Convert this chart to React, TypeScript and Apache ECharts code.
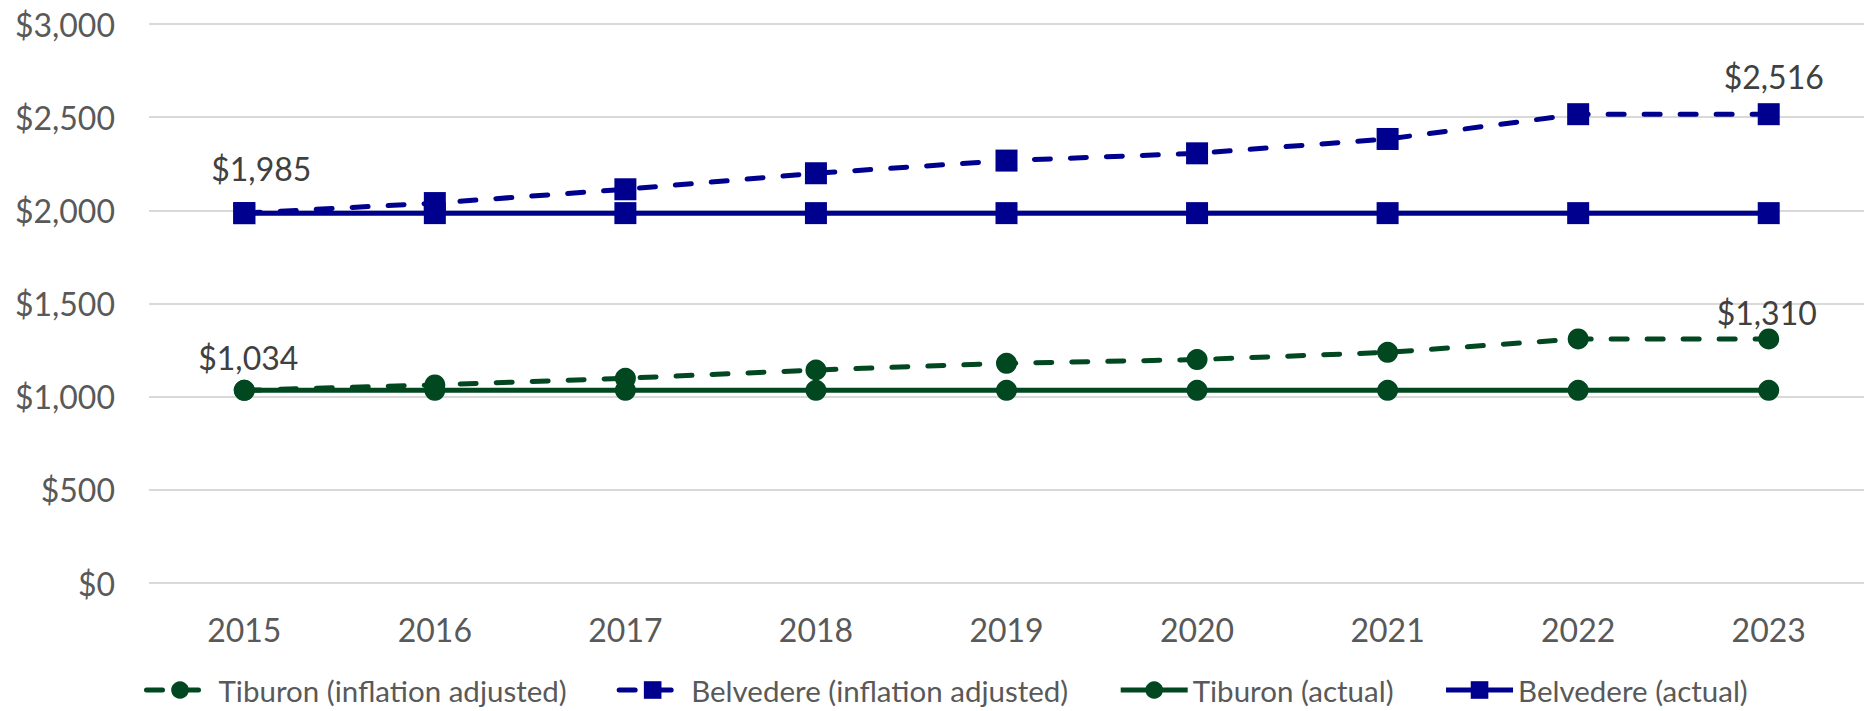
import React, { useEffect, useRef } from "react";
import * as echarts from "echarts";

const years = ["2015", "2016", "2017", "2018", "2019", "2020", "2021", "2022", "2023"];
const tiburonAdjusted = [1034, 1063, 1099, 1143, 1179, 1199, 1238, 1310, 1310];
const belvedereAdjusted = [1985, 2039, 2113, 2199, 2267, 2306, 2383, 2516, 2516];
const tiburonActual = [1034, 1034, 1034, 1034, 1034, 1034, 1034, 1034, 1034];
const belvedereActual = [1985, 1985, 1985, 1985, 1985, 1985, 1985, 1985, 1985];
const seriesNames = [
  "Tiburon (inflation adjusted)",
  "Belvedere (inflation adjusted)",
  "Tiburon (actual)",
  "Belvedere (actual)",
];
const yTicks = { min: 0, max: 3000, interval: 500 };

const GREEN = "#01471f";
const BLUE = "#00008f";
const FONT = "Lato";

const fmt = (v: number) => "$" + v.toLocaleString("en-US");

function withEndLabels(values: number[], first: number[], last: number[]) {
  return values.map((v, i) => {
    if (i === 0)
      return { value: v, label: { show: true, offset: first } };
    if (i === values.length - 1)
      return { value: v, label: { show: true, offset: last } };
    return v;
  });
}

export default function App() {
  const ref = useRef<HTMLDivElement>(null);
  useEffect(() => {
    if (!ref.current) return;
    const chart = echarts.init(ref.current, undefined, { renderer: "svg" });
    const labelStyle = {
      show: false,
      position: "top",
      distance: 5,
      color: "#404040",
      fontFamily: FONT,
      fontSize: 32,
      formatter: (p: any) => fmt(p.value),
    };
    chart.setOption({
      animation: false,
      textStyle: { fontFamily: FONT },
      grid: { left: 149, top: 24, width: 1721, height: 559, containLabel: false },
      legend: {
        left: 139,
        top: 669,
        itemWidth: 67,
        itemHeight: 22,
        itemGap: 50,
        lineStyle: { width: 5 },
        textStyle: { color: "#595959", fontSize: 29.5, fontFamily: FONT, lineHeight: 32 },
        data: seriesNames,
      },
      xAxis: {
        type: "category",
        data: years,
        boundaryGap: true,
        axisLine: { show: false },
        axisTick: { show: false },
        axisLabel: { color: "#595959", fontSize: 32, fontFamily: FONT, margin: 30 },
      },
      yAxis: {
        type: "value",
        min: yTicks.min,
        max: yTicks.max,
        interval: yTicks.interval,
        axisLine: { show: false },
        axisTick: { show: false },
        axisLabel: {
          color: "#595959",
          fontSize: 32,
          fontFamily: FONT,
          margin: 34,
          formatter: (v: number) => fmt(v),
        },
        splitLine: { lineStyle: { color: "#d9d9d9", width: 2 } },
      },
      series: [
        {
          name: seriesNames[0],
          type: "line",
          data: withEndLabels(tiburonAdjusted, [4, -1], [-2, 5]),
          symbol: "circle",
          symbolSize: 21,
          itemStyle: { color: GREEN },
          lineStyle: { color: GREEN, width: 5, type: [16, 20], cap: "round" },
          label: labelStyle,
          z: 3,
        },
        {
          name: seriesNames[1],
          type: "line",
          data: withEndLabels(belvedereAdjusted, [17, -13], [5, -6]),
          symbol: "rect",
          symbolSize: 22,
          itemStyle: { color: BLUE },
          lineStyle: { color: BLUE, width: 5, type: [16, 20], cap: "round" },
          label: labelStyle,
          z: 3,
        },
        {
          name: seriesNames[2],
          type: "line",
          data: tiburonActual,
          symbol: "circle",
          symbolSize: 21,
          itemStyle: { color: GREEN },
          lineStyle: { color: GREEN, width: 5 },
          z: 2,
        },
        {
          name: seriesNames[3],
          type: "line",
          data: belvedereActual,
          symbol: "rect",
          symbolSize: 22,
          itemStyle: { color: BLUE },
          lineStyle: { color: BLUE, width: 5 },
          z: 2,
        },
      ],
    });
    return () => chart.dispose();
  }, []);
  return (
    <div
      ref={ref}
      style={{ position: "fixed", left: 0, top: 0, width: 1864, height: 711, background: "#fff" }}
    />
  );
}
